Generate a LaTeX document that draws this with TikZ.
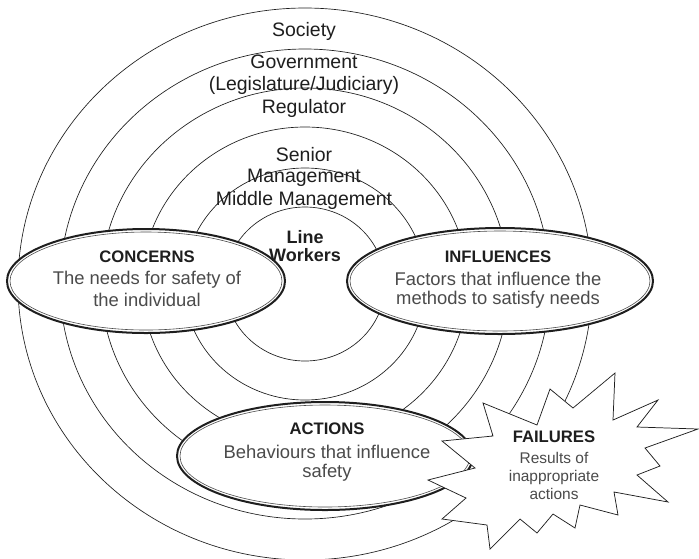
\documentclass[tikz,border=0pt]{standalone}
\usepackage{fontspec}
\setmainfont{Liberation Sans}
\usepackage{tikz}
\usetikzlibrary{shapes.geometric}
\definecolor{figline}{RGB}{30,30,30}
\definecolor{figtext}{RGB}{75,75,75}
\tikzset{
  ring/.style  ={draw=figline, line width=0.5pt},
  zone/.style  ={ellipse, draw=figline, fill=white, line width=1.5pt, inner sep=0pt},
  zonein/.style={draw=figline!80, line width=0.45pt},
  burst/.style ={draw=figline, fill=white, line width=0.55pt, line join=miter},
  lab/.style   ={font=\fontsize{14.6}{16}\selectfont, text=figline, inner sep=1pt},
  labb/.style  ={font=\fontsize{13.5}{16}\selectfont\bfseries, text=figline, inner sep=1pt},
  head/.style  ={font=\fontsize{12.5}{14}\selectfont\bfseries, text=figline, inner sep=1pt},
  body/.style  ={font=\fontsize{13.8}{16}\selectfont, text=figtext, inner sep=1pt},
  bodys/.style ={font=\fontsize{11.6}{14}\selectfont, text=figtext, inner sep=1pt},
}
\begin{document}
\begin{tikzpicture}[x=0.75pt,y=-0.75pt]
  \useasboundingbox (0,0) rectangle (699,558);
  \draw[ring] (305,284) ellipse [x radius=287, y radius=276];
  \draw[ring] (305,284) ellipse [x radius=245, y radius=235];
  \draw[ring] (305,284) ellipse [x radius=204, y radius=196];
  \draw[ring] (305,284) ellipse [x radius=163, y radius=157];
  \draw[ring] (305,284) ellipse [x radius=121, y radius=116];
  \draw[ring] (305,284) ellipse [x radius=80, y radius=77];
  \node[zone, minimum width=208.5pt, minimum height=78pt] (concerns) at (146,281) {};
  \draw[zonein] (concerns.center) ellipse [x radius=136, y radius=49];
  \node[zone, minimum width=229.5pt, minimum height=79.5pt] (influences) at (500,281) {};
  \draw[zonein] (influences.center) ellipse [x radius=150, y radius=50];
  \node[zone, minimum width=222pt, minimum height=81pt] (actions) at (325,456) {};
  \draw[zonein] (actions.center) ellipse [x radius=145, y radius=51];
  \draw[burst] (483,403) -- (537,425) -- (550,389) -- (573,408) -- (615,373) -- (613,420)
    -- (658,400) -- (637,427) -- (698,429) -- (645,448) -- (660,466) -- (637,475)
    -- (668,502) -- (614,492) -- (618,515) -- (580,505) -- (575,528) -- (553,514)
    -- (537,533) -- (520,519) -- (490,549) -- (487,525) -- (442,519) -- (466,498)
    -- (428,480) -- (475,468) -- (442,441) -- (493,436) -- cycle;
  \node[lab] (society) at (304,31) {Society};
  \node[lab] (govt) at (304,62) {Government};
  \node[lab] (legis) at (304,85) {(Legislature/Judiciary)};
  \node[lab] (regul) at (304,108) {Regulator};
  \node[lab] (senior) at (304,155) {Senior};
  \node[lab] (senmgmt) at (304,178) {Management};
  \node[lab] (midmgmt) at (304,200) {Middle Management};
  \node[labb] (linew) at (305,237) {Line};
  \node[labb] (workers) at (305,255) {Workers};
  \node[head] (concernshd) at (147,257) {CONCERNS};
  \node[body] (concernsa) at (147,280) {The needs for safety of};
  \node[body] (concernsb) at (147,300) {the individual};
  \node[head] (influenceshd) at (498,257) {INFLUENCES};
  \node[body] (influencesa) at (498,279) {Factors that influence the};
  \node[body] (influencesb) at (498,300) {methods to satisfy needs};
  \node[head] (actionshd) at (327,429) {ACTIONS};
  \node[body] (actionsa) at (327,452) {Behaviours that influence};
  \node[body] (actionsb) at (327,473) {safety};
  \node[head] (failureshd) at (554,437) {FAILURES};
  \node[bodys] (failuresa) at (554,458) {Results of};
  \node[bodys] (failuresb) at (554,477) {inappropriate};
  \node[bodys] (failuresc) at (554,494) {actions};
\end{tikzpicture}
\end{document}
